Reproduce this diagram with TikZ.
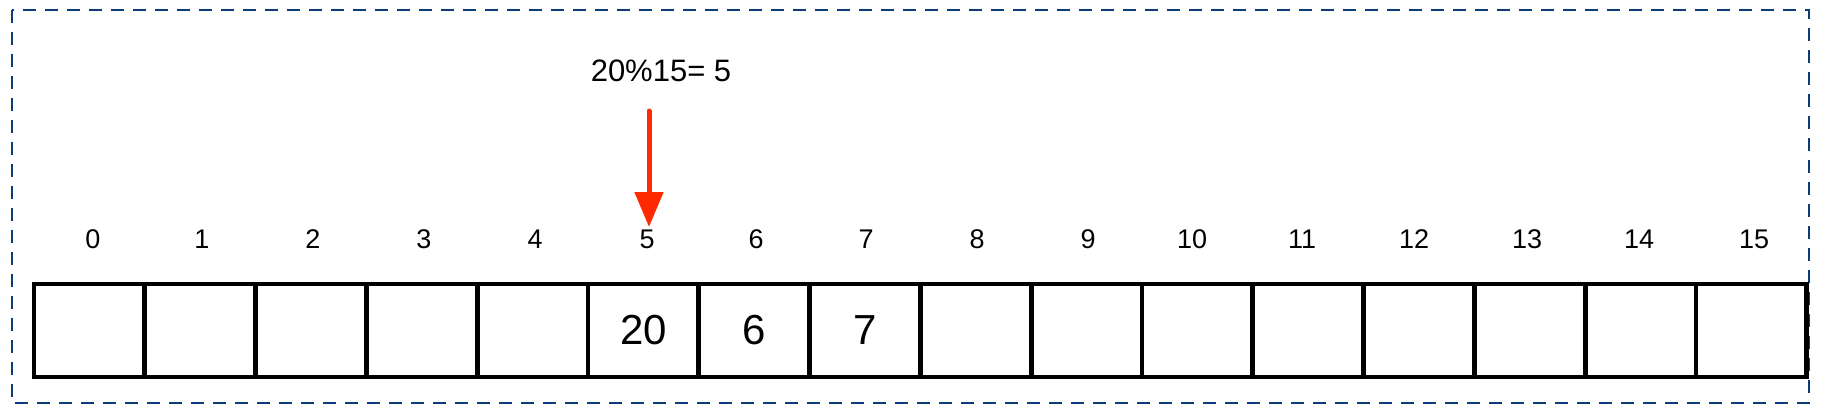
\documentclass[tikz,border=0pt]{standalone}
\usepackage{fontspec}
\setmainfont{Liberation Sans}
\usetikzlibrary{arrows.meta}
\definecolor{cadreblue}{HTML}{0C3B7A}
\definecolor{flechered}{HTML}{FF2A00}
\begin{document}
\begin{tikzpicture}[x=0.5pt, y=-0.5pt]
\tikzset{case/.style={draw, line width=2.4pt, minimum width=55.4pt, minimum height=46.5pt, inner sep=0pt, outer sep=0pt, font=\fontsize{21}{25}\selectfont},
  indice/.style={font=\fontsize{13.5}{16}\selectfont},
  cadre/.style={draw=cadreblue, line width=1.4pt, dash pattern=on 6.5pt off 4.5pt}}
\useasboundingbox (0, 0) rectangle (1824, 413);
\draw[cadre] (12, 10) rectangle (1809, 403);
\node[case] (C0) at (89.4, 330.5) {};
\node[case] (C1) at (200.2, 330.5) {};
\node[case] (C2) at (311.0, 330.5) {};
\node[case] (C3) at (421.8, 330.5) {};
\node[case] (C4) at (532.6, 330.5) {};
\node[case] (C5) at (643.4, 330.5) {20};
\node[case] (C6) at (754.2, 330.5) {6};
\node[case] (C7) at (865.0, 330.5) {7};
\node[case] (C8) at (975.8, 330.5) {};
\node[case] (C9) at (1086.6, 330.5) {};
\node[case] (C10) at (1197.4, 330.5) {};
\node[case] (C11) at (1308.2, 330.5) {};
\node[case] (C12) at (1419.0, 330.5) {};
\node[case] (C13) at (1529.8, 330.5) {};
\node[case] (C14) at (1640.6, 330.5) {};
\node[case] (C15) at (1751.4, 330.5) {};
\node[indice] (I0) at (93, 239) {0};
\node[indice] (I1) at (202, 239) {1};
\node[indice] (I2) at (313, 239) {2};
\node[indice] (I3) at (424, 239) {3};
\node[indice] (I4) at (535, 239) {4};
\node[indice] (I5) at (647, 239) {5};
\node[indice] (I6) at (756, 239) {6};
\node[indice] (I7) at (866, 239) {7};
\node[indice] (I8) at (977, 239) {8};
\node[indice] (I9) at (1088, 239) {9};
\node[indice] (I10) at (1192, 239) {10};
\node[indice] (I11) at (1302, 239) {11};
\node[indice] (I12) at (1414, 239) {12};
\node[indice] (I13) at (1527, 239) {13};
\node[indice] (I14) at (1639, 239) {14};
\node[indice] (I15) at (1754, 239) {15};
\node[font=\fontsize{15.5}{18}\selectfont] (calcul) at (661, 71) {20\%15= 5};
\coordinate (depart) at (649, 111);
\coordinate (arrivee) at (649, 227);
\draw[flechered, line width=2.5pt, line cap=round, -{Triangle[width=14pt, length=17.5pt]}] (depart) -- (arrivee);
\end{tikzpicture}
\end{document}
